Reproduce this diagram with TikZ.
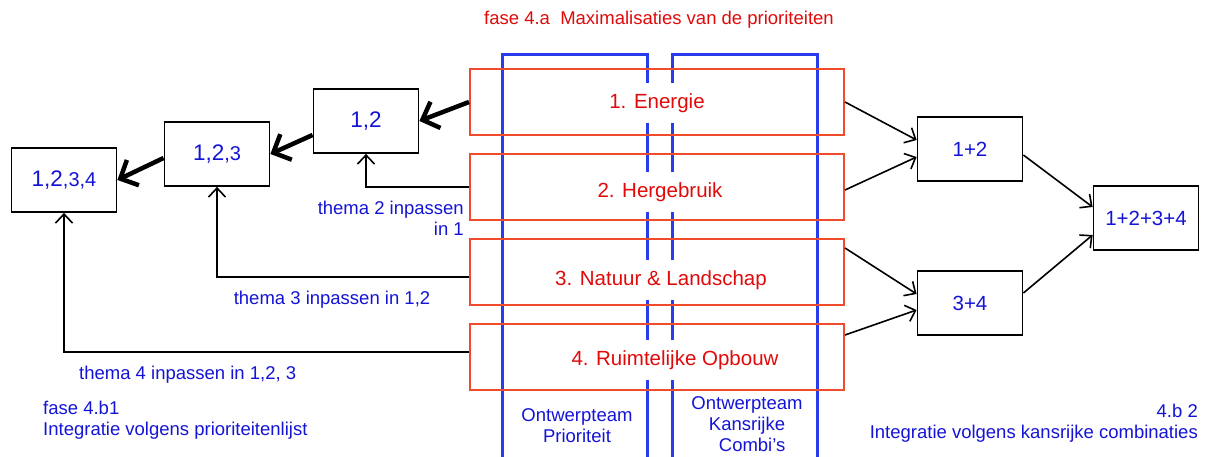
\documentclass[tikz,border=0pt]{standalone}
\usepackage{fontspec}
\setmainfont{Liberation Sans}
\usetikzlibrary{arrows.meta}
\definecolor{txtblue}{RGB}{20,20,215}
\definecolor{txtred}{RGB}{225,10,10}
\definecolor{boxred}{RGB}{240,75,45}
\definecolor{teamblue}{RGB}{40,60,235}
\newcommand{\smalltxt}{\fontsize{18.5}{21}\selectfont}
\newcommand{\bigtxt}{\fontsize{20.5}{24}\selectfont}
\newcommand{\numtxt}{\fontsize{22.5}{26}\selectfont}
\newcommand{\subtxt}{\fontsize{20}{24}\selectfont}
\tikzset{
  themebox/.style={draw=boxred, line width=2pt, minimum width=374pt, minimum height=66pt, inner sep=0pt},
  themelabel/.style={fill=white, text=txtred, font=\bigtxt, minimum height=40pt, inner sep=2pt},
  numbox/.style={draw=black, line width=1.8pt, fill=white, text=txtblue, minimum width=105pt, minimum height=64pt, inner sep=0pt, font=\numtxt},
  teamline/.style={draw=teamblue, line width=3pt},
  note/.style={text=txtblue, font=\smalltxt, inner sep=0pt},
  bigarrow/.style={line width=4.5pt, -{Straight Barb[length=14pt,width=28pt]}},
  thinarrow/.style={line width=1.6pt, -{Straight Barb[length=9pt,width=17pt]}},
}
\begin{document}
\begin{tikzpicture}[x=1pt, y=-1pt]
    \clip (0,0) rectangle (1206,457);
    \fill[white] (0,0) rectangle (1206,457);
    % title
    \node[text=txtred, font=\smalltxt] (title) at (659,20) {fase 4.a\ \ Maximalisaties van de prioriteiten};
    % two design teams
    \draw[teamline] (502,55) rectangle (647,475);
    \draw[teamline] (672,55) rectangle (817,475);
    % themes
    \node[themebox] (energie) at (657,102) {};
    \node[themebox] (herge) at (657,187) {};
    \node[themebox] (natuur) at (657,272) {};
    \node[themebox] (ruimte) at (657,357) {};
    \node[themelabel] (energieT) at (657,103) {1. Energie};
    \node[themelabel] (hergeT) at (660,192) {2. Hergebruik};
    \node[themelabel] (natuurT) at (661,280) {3. Natuur \& Landschap};
    \node[themelabel] (ruimteT) at (675,360) {4. Ruimtelijke Opbouw};
    % team labels
    \node[note, align=center] (teamP) at (577,426) {Ontwerpteam\\Prioriteit};
    \node[note, align=center] (teamK) at (747,424) {Ontwerpteam\\Kansrijke\\\ \ Combi’s};
    % left: priority list
    \node[numbox] (n12) at (366,121) {1,2};
    \node[numbox] (n123) at (217,154) {1,2{\subtxt,3}};
    \node[numbox] (n1234) at (64,180) {1,2{\subtxt,3,4}};
    \draw[bigarrow] (energie.west) -- (n12.east);
    \draw[bigarrow] ([yshift=-14pt]n12.west) -- (n123.east);
    \draw[bigarrow] ([yshift=-4pt]n123.west) -- (n1234.east);
    \draw[thinarrow] (herge.west) -| (n12.south);
    \draw[thinarrow] ([yshift=-5pt]natuur.west) -| (n123.south);
    \draw[thinarrow] ([yshift=5pt]ruimte.west) -| (n1234.south);
    \node[note, anchor=east, align=right] (thema2) at (464,218) {thema 2 inpassen\\in 1};
    \node[note] (thema3) at (332,300) {thema 3 inpassen in 1,2};
    \node[note, anchor=west] (thema4) at (79,375) {thema 4 inpassen in 1,2, 3};
    \node[note, anchor=west, align=left] (faseB1) at (43,420) {fase 4.b1\\Integratie volgens prioriteitenlijst};
    % right: promising combinations
    \node[numbox, font=\bigtxt] (n1p2) at (970,149) {1+2};
    \node[numbox, font=\bigtxt] (n3p4) at (970,303) {3+4};
    \node[numbox, font=\bigtxt] (ntot) at (1146,218) {1+2+3+4};
    \draw[thinarrow] (energie.east) -- ([yshift=9pt]n1p2.west);
    \draw[thinarrow] ([yshift=-3pt]herge.east) -- ([yshift=-8pt]n1p2.west);
    \draw[thinarrow] ([yshift=24pt]natuur.east) -- ([yshift=9pt]n3p4.west);
    \draw[thinarrow] ([yshift=22pt]ruimte.east) -- ([yshift=-7pt]n3p4.west);
    \draw[thinarrow] ([yshift=-6pt]n1p2.east) -- ([yshift=11pt]ntot.west);
    \draw[thinarrow] ([yshift=10pt]n3p4.east) -- ([yshift=-17pt]ntot.west);
    \node[note, anchor=east, align=right] (faseB2) at (1198,423) {4.b 2\\Integratie volgens kansrijke combinaties};
\end{tikzpicture}
\end{document}
